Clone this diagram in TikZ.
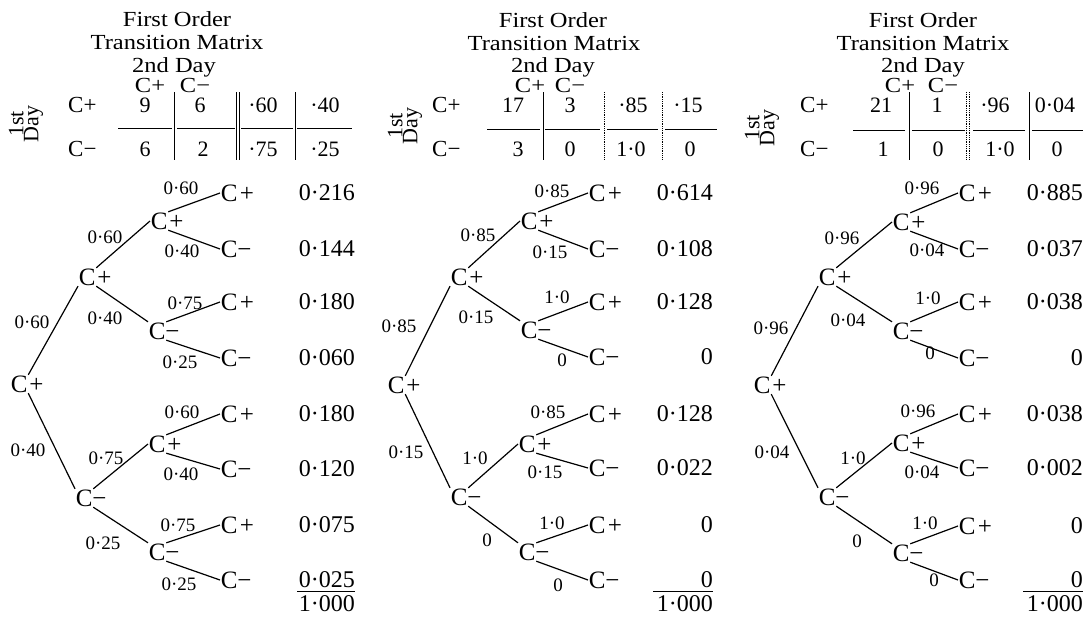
\documentclass[tikz,border=0pt]{standalone}
\usepackage{fontspec}
\setmainfont{Liberation Serif}
\newfontfamily\hdrfont{Liberation Serif}[FakeStretch=1.14]
\begin{document}
\begin{tikzpicture}[x=1pt,y=-1pt,
  cn/.style={inner sep=0.6pt, anchor=west, font=\fontsize{25}{25}\selectfont},
  lab/.style={inner sep=0pt, font=\fontsize{19}{19}\selectfont},
  prob/.style={inner sep=0pt, anchor=east, font=\fontsize{24}{24}\selectfont},
  hdr/.style={inner sep=0pt, align=center, font=\hdrfont\fontsize{21.5}{19.5}\selectfont},
  side/.style={inner sep=0pt, rotate=90, align=center, font=\fontsize{22}{15}\selectfont},
  mat/.style={inner sep=0pt, font=\fontsize{22}{22}\selectfont},
  rowlab/.style={inner sep=0pt, anchor=west, font=\fontsize{23}{23}\selectfont},
  edge/.style={line width=1.2pt},
  rule/.style={line width=0.9pt},
  thinrule/.style={line width=0.6pt},
  dotrule/.style={line width=0.8pt, densely dotted}]
\useasboundingbox (0,0) rectangle (1085,619);

% ================= PANEL 1 =================
\node[hdr] (h1a) at (177,19) {First Order};
\node[hdr] (h1b) at (177,42) {Transition Matrix};
\node[hdr] (h1c) at (174,67) {2nd Day};
\node[hdr] (h1d) at (150,85) {C+};
\node[hdr] (h1f) at (195,85) {C−};
\node[side] (h1e) at (26,124) {1st\\Day};
\node[rowlab] (m1r1) at (68,105) {C+};
\node[rowlab] (m1r2) at (68,149) {C−};
\node[mat] (m1a) at (145,105) {9};
\node[mat] (m1b) at (200,105) {6};
\node[mat] (m1c) at (263,105) {·60};
\node[mat] (m1d) at (325,105) {·40};
\node[mat] (m1e) at (145,149) {6};
\node[mat] (m1f) at (203,149) {2};
\node[mat] (m1g) at (263,149) {·75};
\node[mat] (m1h) at (325,149) {·25};
\draw[thinrule] (174,92) -- (174,160);
\draw[thinrule] (236.5,92) -- (236.5,160);
\draw[thinrule] (239.5,92) -- (239.5,160);
\draw[thinrule] (295,92) -- (295,160);
\draw[rule] (118,128) -- (172,128);
\draw[rule] (177,128) -- (235,128);
\draw[rule] (241,128) -- (293,128);
\draw[rule] (297,128) -- (352,128);

\node[cn] (a0) at (10,384) {C\rlap{\kern2pt+}};
\node[cn] (a1) at (78,277) {C\rlap{\kern2pt+}};
\node[cn] (a2) at (75,498) {C\rlap{−}};
\node[cn] (a11) at (150,221) {C\rlap{\kern2pt+}};
\node[cn] (a12) at (148,331) {C\rlap{−}};
\node[cn] (a21) at (148,444) {C\rlap{\kern2pt+}};
\node[cn] (a22) at (148,552) {C\rlap{−}};
\node[cn] (a111) at (220,193) {C\rlap{\kern2.5pt+}};
\node[cn] (a112) at (220,249) {C\rlap{−}};
\node[cn] (a121) at (220,302) {C\rlap{\kern2.5pt+}};
\node[cn] (a122) at (220,358) {C\rlap{−}};
\node[cn] (a211) at (220,414) {C\rlap{\kern2.5pt+}};
\node[cn] (a212) at (220,469) {C\rlap{−}};
\node[cn] (a221) at (220,525) {C\rlap{\kern2.5pt+}};
\node[cn] (a222) at (220,580) {C\rlap{−}};
\draw[edge] (a0.north east) -- (a1.south west);
\draw[edge] (a0.south east) -- (a2.north west);
\draw[edge] (a1.north east) -- (a11.west);
\draw[edge] (a1.south east) -- (a12.north west);
\draw[edge] (a2.north east) -- (a21.west);
\draw[edge] (a2.south east) -- (a22.north west);
\draw[edge] (a11.north east) -- (a111.west);
\draw[edge] (a11.south east) -- (a112.west);
\draw[edge] (a12.north east) -- (a121.west);
\draw[edge] (a12.south east) -- (a122.west);
\draw[edge] (a21.north east) -- (a211.west);
\draw[edge] (a21.south east) -- (a212.west);
\draw[edge] (a22.north east) -- (a221.west);
\draw[edge] (a22.south east) -- (a222.west);
\node[lab] (la1) at (32,322) {0·60};
\node[lab] (la2) at (28,450) {0·40};
\node[lab] (la3) at (105,237) {0·60};
\node[lab] (la4) at (105,318) {0·40};
\node[lab] (la5) at (106,458) {0·75};
\node[lab] (la6) at (103,543) {0·25};
\node[lab] (la7) at (181,188) {0·60};
\node[lab] (la8) at (182,251) {0·40};
\node[lab] (la9) at (185,303) {0·75};
\node[lab] (la10) at (180,362) {0·25};
\node[lab] (la11) at (182,412) {0·60};
\node[lab] (la12) at (181,474) {0·40};
\node[lab] (la13) at (178,525) {0·75};
\node[lab] (la14) at (179,584) {0·25};
\node[prob] (pa1) at (355,193) {0·216};
\node[prob] (pa2) at (355,249) {0·144};
\node[prob] (pa3) at (355,302) {0·180};
\node[prob] (pa4) at (355,358) {0·060};
\node[prob] (pa5) at (355,414) {0·180};
\node[prob] (pa6) at (355,469) {0·120};
\node[prob] (pa7) at (355,525) {0·075};
\node[prob] (pa8) at (355,580) {0·025};
\draw[rule] (297,591) -- (355,591);
\node[prob] (pa9) at (355,604) {1·000};

% ================= PANEL 2 =================
\node[hdr] (h2a) at (553,20) {First Order};
\node[hdr] (h2b) at (554,43) {Transition Matrix};
\node[hdr] (h2c) at (553,67) {2nd Day};
\node[hdr] (h2d) at (530,85) {C+};
\node[hdr] (h2f) at (570,85) {C−};
\node[side] (h2e) at (405,126) {1st\\Day};
\node[rowlab] (m2r1) at (432,105) {C+};
\node[rowlab] (m2r2) at (432,149) {C−};
\node[mat] (m2a) at (513,105) {17};
\node[mat] (m2b) at (570,105) {3};
\node[mat] (m2c) at (633,105) {·85};
\node[mat] (m2d) at (688,105) {·15};
\node[mat] (m2e) at (518,149) {3};
\node[mat] (m2f) at (570,149) {0};
\node[mat] (m2g) at (631,149) {1·0};
\node[mat] (m2h) at (690,149) {0};
\draw[thinrule] (543,92) -- (543,160);
\draw[dotrule] (604,92) -- (604,160);
\draw[dotrule] (662,92) -- (662,160);
\draw[rule] (487,129) -- (540,129);
\draw[rule] (545,129) -- (600,129);
\draw[rule] (607,129) -- (658,129);
\draw[rule] (665,129) -- (717,129);

\node[cn] (b0) at (387,385) {C\rlap{\kern2pt+}};
\node[cn] (b1) at (450,277) {C\rlap{\kern2pt+}};
\node[cn] (b2) at (450,497) {C\rlap{−}};
\node[cn] (b11) at (520,221) {C\rlap{\kern2pt+}};
\node[cn] (b12) at (520,330) {C\rlap{−}};
\node[cn] (b21) at (518,444) {C\rlap{\kern2pt+}};
\node[cn] (b22) at (518,552) {C\rlap{−}};
\node[cn] (b111) at (588,193) {C\rlap{\kern2.5pt+}};
\node[cn] (b112) at (588,249) {C\rlap{−}};
\node[cn] (b121) at (588,302) {C\rlap{\kern2.5pt+}};
\node[cn] (b122) at (588,357) {C\rlap{−}};
\node[cn] (b211) at (588,414) {C\rlap{\kern2.5pt+}};
\node[cn] (b212) at (588,468) {C\rlap{−}};
\node[cn] (b221) at (588,525) {C\rlap{\kern2.5pt+}};
\node[cn] (b222) at (588,580) {C\rlap{−}};
\draw[edge] (b0.north east) -- (b1.south west);
\draw[edge] (b0.south east) -- (b2.north west);
\draw[edge] (b1.north east) -- (b11.west);
\draw[edge] (b1.south east) -- (b12.north west);
\draw[edge] (b2.north east) -- (b21.west);
\draw[edge] (b2.south east) -- (b22.north west);
\draw[edge] (b11.north east) -- (b111.west);
\draw[edge] (b11.south east) -- (b112.west);
\draw[edge] (b12.north east) -- (b121.west);
\draw[edge] (b12.south east) -- (b122.west);
\draw[edge] (b21.north east) -- (b211.west);
\draw[edge] (b21.south east) -- (b212.west);
\draw[edge] (b22.north east) -- (b221.west);
\draw[edge] (b22.south east) -- (b222.west);
\node[lab] (lb1) at (399,326) {0·85};
\node[lab] (lb2) at (406,452) {0·15};
\node[lab] (lb3) at (478,235) {0·85};
\node[lab] (lb4) at (476,317) {0·15};
\node[lab] (lb5) at (475,458) {1·0};
\node[lab] (lb6) at (487,540) {0};
\node[lab] (lb7) at (552,191) {0·85};
\node[lab] (lb8) at (550,252) {0·15};
\node[lab] (lb9) at (557,297) {1·0};
\node[lab] (lb10) at (562,360) {0};
\node[lab] (lb11) at (548,412) {0·85};
\node[lab] (lb12) at (545,472) {0·15};
\node[lab] (lb13) at (552,523) {1·0};
\node[lab] (lb14) at (558,585) {0};
\node[prob] (pb1) at (713,193) {0·614};
\node[prob] (pb2) at (713,249) {0·108};
\node[prob] (pb3) at (713,302) {0·128};
\node[prob] (pb4) at (713,357) {0};
\node[prob] (pb5) at (713,414) {0·128};
\node[prob] (pb6) at (713,468) {0·022};
\node[prob] (pb7) at (713,525) {0};
\node[prob] (pb8) at (713,580) {0};
\draw[rule] (653,591) -- (713,591);
\node[prob] (pb9) at (713,604) {1·000};

% ================= PANEL 3 =================
\node[hdr] (h3a) at (923,20) {First Order};
\node[hdr] (h3b) at (923,43) {Transition Matrix};
\node[hdr] (h3c) at (923,67) {2nd Day};
\node[hdr] (h3d) at (900,85) {C+};
\node[hdr] (h3f) at (943,85) {C−};
\node[side] (h3e) at (762,128) {1st\\Day};
\node[rowlab] (m3r1) at (800,105) {C+};
\node[rowlab] (m3r2) at (800,149) {C−};
\node[mat] (m3a) at (881,105) {21};
\node[mat] (m3b) at (937,105) {1};
\node[mat] (m3c) at (995,105) {·96};
\node[mat] (m3d) at (1055,105) {0·04};
\node[mat] (m3e) at (883,149) {1};
\node[mat] (m3f) at (938,149) {0};
\node[mat] (m3g) at (1000,149) {1·0};
\node[mat] (m3h) at (1057,149) {0};
\draw[thinrule] (909,92) -- (909,160);
\draw[dotrule] (966.5,92) -- (966.5,160);
\draw[dotrule] (969.5,92) -- (969.5,160);
\draw[thinrule] (1029,92) -- (1029,160);
\draw[rule] (853,130) -- (905,130);
\draw[rule] (912,130) -- (965,130);
\draw[rule] (973,130) -- (1025,130);
\draw[rule] (1032,130) -- (1083,130);

\node[cn] (c0) at (753,385) {C\rlap{\kern2pt+}};
\node[cn] (c1) at (818,277) {C\rlap{\kern2pt+}};
\node[cn] (c2) at (818,497) {C\rlap{−}};
\node[cn] (c11) at (892,222) {C\rlap{\kern2pt+}};
\node[cn] (c12) at (892,331) {C\rlap{−}};
\node[cn] (c21) at (892,443) {C\rlap{\kern2pt+}};
\node[cn] (c22) at (892,553) {C\rlap{−}};
\node[cn] (c111) at (958,193) {C\rlap{\kern2.5pt+}};
\node[cn] (c112) at (958,249) {C\rlap{−}};
\node[cn] (c121) at (958,302) {C\rlap{\kern2.5pt+}};
\node[cn] (c122) at (958,358) {C\rlap{−}};
\node[cn] (c211) at (958,414) {C\rlap{\kern2.5pt+}};
\node[cn] (c212) at (958,468) {C\rlap{−}};
\node[cn] (c221) at (958,526) {C\rlap{\kern2.5pt+}};
\node[cn] (c222) at (958,580) {C\rlap{−}};
\draw[edge] (c0.north east) -- (c1.south west);
\draw[edge] (c0.south east) -- (c2.north west);
\draw[edge] (c1.north east) -- (c11.west);
\draw[edge] (c1.south east) -- (c12.north west);
\draw[edge] (c2.north east) -- (c21.west);
\draw[edge] (c2.south east) -- (c22.north west);
\draw[edge] (c11.north east) -- (c111.west);
\draw[edge] (c11.south east) -- (c112.west);
\draw[edge] (c12.north east) -- (c121.west);
\draw[edge] (c12.south east) -- (c122.west);
\draw[edge] (c21.north east) -- (c211.west);
\draw[edge] (c21.south east) -- (c212.west);
\draw[edge] (c22.north east) -- (c221.west);
\draw[edge] (c22.south east) -- (c222.west);
\node[lab] (lc1) at (771,328) {0·96};
\node[lab] (lc2) at (772,452) {0·04};
\node[lab] (lc3) at (842,238) {0·96};
\node[lab] (lc4) at (848,320) {0·04};
\node[lab] (lc5) at (853,458) {1·0};
\node[lab] (lc6) at (857,541) {0};
\node[lab] (lc7) at (922,188) {0·96};
\node[lab] (lc8) at (927,250) {0·04};
\node[lab] (lc9) at (928,298) {1·0};
\node[lab] (lc10) at (930,353) {0};
\node[lab] (lc11) at (918,411) {0·96};
\node[lab] (lc12) at (922,472) {0·04};
\node[lab] (lc13) at (925,523) {1·0};
\node[lab] (lc14) at (934,580) {0};
\node[prob] (pc1) at (1083,193) {0·885};
\node[prob] (pc2) at (1083,249) {0·037};
\node[prob] (pc3) at (1083,302) {0·038};
\node[prob] (pc4) at (1083,358) {0};
\node[prob] (pc5) at (1083,414) {0·038};
\node[prob] (pc6) at (1083,468) {0·002};
\node[prob] (pc7) at (1083,526) {0};
\node[prob] (pc8) at (1083,580) {0};
\draw[rule] (1023,591) -- (1083,591);
\node[prob] (pc9) at (1083,604) {1·000};
\end{tikzpicture}
\end{document}
